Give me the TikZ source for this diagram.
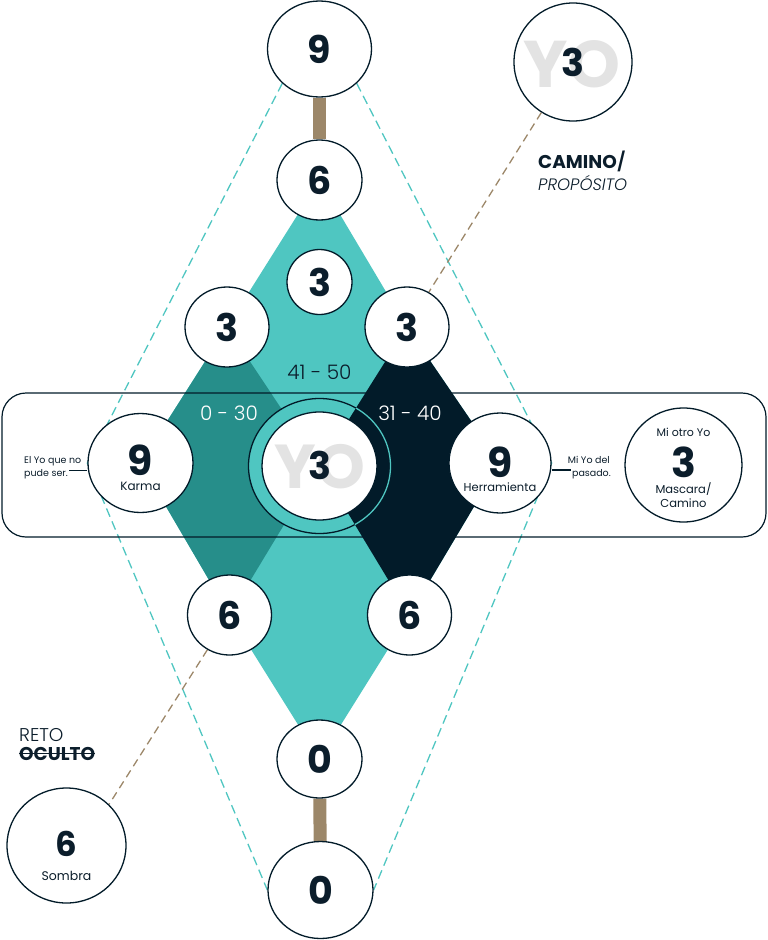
\documentclass[tikz,border=0pt]{standalone}
\usepackage{fontspec}
\setmainfont{Poppins}
\newfontfamily\thinfont{Poppins Light}
\usetikzlibrary{shapes.geometric,backgrounds}

\definecolor{tealL}{HTML}{4FC6C1}
\definecolor{tealD}{HTML}{268E8A}
\definecolor{navy}{HTML}{021B29}
\definecolor{ink}{HTML}{0B1D2B}
\definecolor{sand}{HTML}{9C8769}
\definecolor{ghostgray}{HTML}{E3E3E3}

\begin{document}
\begin{tikzpicture}[x=1pt,y=-1pt,
    disc/.style={ellipse,draw=navy,line width=1.3pt,fill=white,inner sep=0pt,
      text=ink,font=\fontsize{38}{38}\selectfont\bfseries},
    bignum/.style={inner sep=0pt,text=ink,font=\fontsize{38}{38}\selectfont\bfseries},
    ghosttxt/.style={inner sep=0pt,text=ghostgray,font=\fontsize{62}{62}\selectfont\bfseries},
    smalltxt/.style={inner sep=0pt,text=ink,font=\fontsize{12}{12}\selectfont},
    notetxt/.style={inner sep=1pt,text=ink,font=\fontsize{9.5}{9.5}\selectfont},
    agetxt/.style={inner sep=0pt,font=\thinfont\fontsize{20}{20}\selectfont},
    headtxt/.style={inner sep=0pt,text=ink,font=\fontsize{18.5}{18.5}\selectfont},
    guide/.style={draw=tealL,line width=1.3pt,dash pattern=on 9pt off 5pt},
    thread/.style={draw=sand,line width=1.3pt,dash pattern=on 8pt off 5pt},
    stem/.style={draw=sand,line width=13pt}]
  \useasboundingbox (0,0) rectangle (768,940);

  \node[disc,minimum width=104,minimum height=96] (nine1) at (319.5,49) {9};
  \node[disc,minimum width=85,minimum height=80] (six1) at (319.5,180) {6};
  \node[disc,minimum width=65,minimum height=65] (three1) at (319.5,282) {3};
  \node[disc,minimum width=84,minimum height=80] (threeL) at (227,327) {3};
  \node[disc,minimum width=84,minimum height=80] (threeR) at (407,327) {3};
  \node[disc,minimum width=105,minimum height=99] (karma) at (140.5,463) {};
  \node[disc,minimum width=115,minimum height=108] (ctr) at (319.5,466) {};
  \node[disc,minimum width=102,minimum height=100] (herr) at (500,463) {};
  \node[disc,minimum width=117,minimum height=114] (otro) at (683.5,465) {};
  \node[disc,minimum width=84,minimum height=80] (sixL) at (229.5,615) {6};
  \node[disc,minimum width=84,minimum height=80] (sixR) at (409.5,615) {6};
  \node[disc,minimum width=85,minimum height=78] (zero1) at (319.5,759) {0};
  \node[disc,minimum width=105,minimum height=97] (zero2) at (320.5,890) {0};
  \node[disc,minimum width=118,minimum height=118] (yo) at (573,62) {};
  \node[disc,minimum width=119,minimum height=115] (sombra) at (66.5,845.5) {};

  \node[ghosttxt] at (320,467) {YO};
  \node[bignum] (ctr3) at (319.5,465) {3};
  \node[ghosttxt,font=\fontsize{66}{66}\selectfont\bfseries] at (572,64) {YO};
  \node[bignum] (yo3) at (573,62) {3};

  \node[bignum,font=\fontsize{41}{41}\selectfont\bfseries] (karma9) at (140.5,460) {9};
  \node[smalltxt] (karmatxt) at (140.5,486) {Karma};
  \node[bignum,font=\fontsize{41}{41}\selectfont\bfseries] (herr9) at (500,462) {9};
  \node[smalltxt,font=\fontsize{11.5}{11.5}\selectfont] (herrtxt) at (500,487) {Herramienta};
  \node[smalltxt,font=\fontsize{11}{11}\selectfont] (otrotop) at (683.5,432) {Mi otro Yo};
  \node[bignum,font=\fontsize{41}{41}\selectfont\bfseries] (otro3) at (683.5,462) {3};
  \node[smalltxt,font=\fontsize{11.5}{11.5}\selectfont] (otromid) at (683.5,489) {Mascara/};
  \node[smalltxt,font=\fontsize{11.5}{11.5}\selectfont] (otrobot) at (683.5,503) {Camino};
  \node[bignum,font=\fontsize{34}{34}\selectfont\bfseries] (sombra6) at (66.5,844) {6};
  \node[smalltxt,font=\fontsize{12.5}{12.5}\selectfont] (sombratxt) at (66.5,876) {Sombra};

  \node[agetxt,text=ink] (age1) at (319.5,372) {41 - 50};
  \node[agetxt,text=white] (age2) at (229,413) {0 - 30};
  \node[agetxt,text=white] (age3) at (410,413) {31 - 40};

  \node[notetxt,anchor=base west] (noteL1) at (23,463.5) {El Yo que no};
  \node[notetxt,anchor=base west] (noteL2) at (23,476.5) {pude ser.};
  \node[notetxt,anchor=base east] (noteR1) at (611,463) {Mi Yo del};
  \node[notetxt,anchor=base east] (noteR2) at (612,476) {pasado.};
  \coordinate (tickL) at ([yshift=6pt]noteL2.base east);
  \coordinate (tickR) at ([yshift=6pt]noteR2.base west);
  \draw[navy,line width=1.1pt] (tickL) -- (tickL -| karma.west);
  \draw[navy,line width=1.1pt] (tickR) -- (tickR -| herr.east);

  \node[headtxt,anchor=base west,font=\fontsize{18.5}{18.5}\selectfont\bfseries] (camino) at (538,168.5) {CAMINO\thinfont/};
  \node[headtxt,anchor=base west,font=\thinfont\itshape\fontsize{16.5}{16.5}\selectfont] (proposito) at (538,190) {PROPÓSITO};
  \node[headtxt,anchor=base west,font=\thinfont\fontsize{18.5}{18.5}\selectfont] (reto) at (19,741.5) {RETO};
  \node[headtxt,anchor=base west,font=\fontsize{18.5}{18.5}\selectfont\bfseries] (oculto) at (19,760) {OCULTO};
  \draw[ink,line width=1.6pt] ([yshift=6.5pt]oculto.base west) -- ([yshift=6.5pt]oculto.base east);

  \begin{scope}[on background layer]
    \draw[guide] (nine1.south west) -- (karma.west) -- (zero2.west);
    \draw[guide] (nine1.south east) -- (herr.east) -- (zero2.east);
    \draw[thread] (yo) -- (threeR);
    \draw[thread] (sixL) -- (sombra.north east);
    \fill[tealL] (six1.center) -- (threeR.center) -- (herr.center) -- (sixR.center)
      -- (zero1.center) -- (sixL.center) -- (karma.center) -- (threeL.center) -- cycle;
    \fill[tealD] (threeL.center) -- (ctr.center) -- (sixL.center) -- (karma.center) -- cycle;
    \draw[navy,line width=1.3pt,fill=tealL] (ctr) ellipse[x radius=71pt,y radius=67.5pt];
    \fill[navy] (threeR.center) -- (herr.center) -- (sixR.center) -- (ctr.center) -- cycle;
    \begin{scope}
      \clip (threeR.center) -- (herr.center) -- (sixR.center) -- (ctr.center) -- cycle;
      \draw[tealL,line width=1.3pt] (ctr) ellipse[x radius=71pt,y radius=67.5pt];
    \end{scope}
    \draw[navy,line width=1.2pt,rounded corners=24pt] (2,393) rectangle (766,537);
    \draw[stem] (nine1) -- (six1);
    \draw[stem] (zero1) -- (zero2);
  \end{scope}
\end{tikzpicture}
\end{document}
